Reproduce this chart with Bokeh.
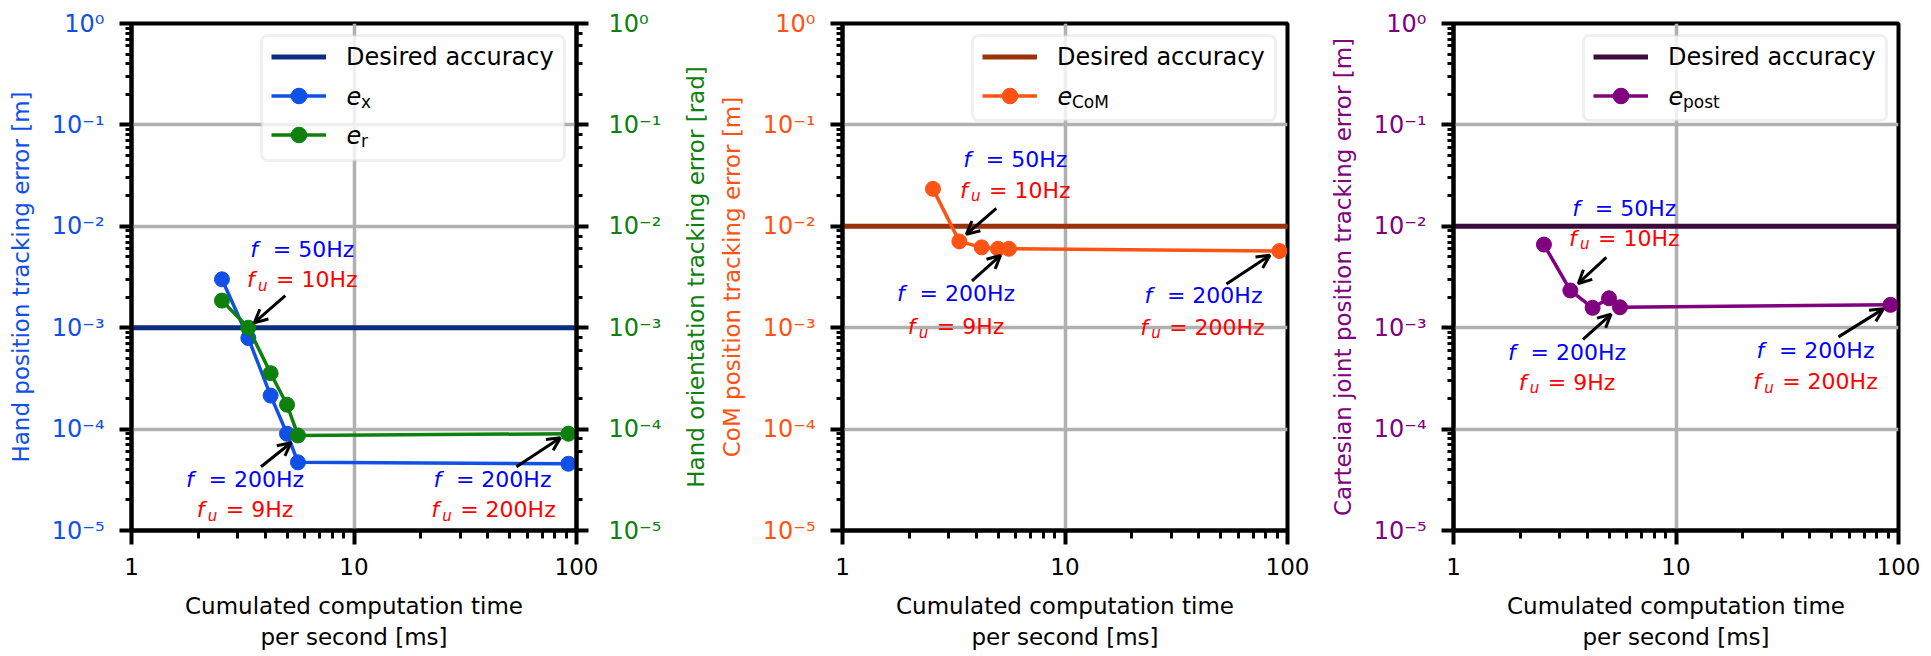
import math
from bokeh.plotting import figure
from bokeh.models import (Range1d, LogScale, LogAxis, Legend, LegendItem, Arrow, BoxAnnotation,
                          OpenHead, CustomJSTickFormatter, Label, Title, ColumnDataSource)
from bokeh.layouts import row
from bokeh.embed import file_html
from bokeh.resources import INLINE
from bokeh.core.properties import value

# ---------------- data ----------------
comp_time_ms = [2.55, 3.35, 4.22, 5.0, 5.6, 92.0]
e_x = [3.0e-3, 7.9e-4, 2.14e-4, 9.0e-5, 4.7e-5, 4.55e-5]
e_r = [1.85e-3, 1.0e-3, 3.56e-4, 1.74e-4, 8.65e-5, 9.0e-5]
e_com = [2.34e-2, 7.1e-3, 6.2e-3, 6.0e-3, 6.0e-3, 5.7e-3]
e_post = [6.6e-3, 2.33e-3, 1.57e-3, 1.95e-3, 1.59e-3, 1.68e-3]
desired_hand = 1e-3
desired_com = 1e-2
desired_post = 1e-2
x_limits = [1, 100]
y_limits = [1e-5, 1]
f_labels = ["50Hz", "200Hz", "200Hz"]
fu_labels = ["10Hz", "9Hz", "200Hz"]
x_title = "Cumulated computation time\nper second [ms]"
orientation_title = "Hand orientation tracking error [rad]"

# ---------------- layout / style ----------------
FONT = "DejaVu Sans"
FRAME_W, FRAME_H = 445, 507
PPD_X = FRAME_W / math.log10(x_limits[1] / x_limits[0])
PPD_Y = FRAME_H / math.log10(y_limits[1] / y_limits[0])
BLUE_TXT, RED_TXT = "#0000ff", "#ff0000"
LEG_MARGIN, LEG_GLYPH_W, LEG_ITEM_H, LEG_STANDOFF, LEG_LABEL_W = 14, 55, 39, 20, 216

W = {c: 1303 for c in "0123456789"}
W.update({"H": 1540, "z": 1075, "=": 1716, " ": 651})


def tw(s, size):
    return sum(W.get(c, 1303) for c in s) / 2048 * size


def px_shift(x, y, dx, dy):
    return x * 10 ** (dx / PPD_X), y * 10 ** (-dy / PPD_Y)


def frame_pt(px, py):
    return x_limits[0] * 10 ** (px / PPD_X), y_limits[1] * 10 ** (-py / PPD_Y)


Y_FMT = """
const e = Math.round(Math.log10(tick));
const sup = {"-": "\u207b", "0": "\u2070", "1": "\u00b9", "2": "\u00b2", "3": "\u00b3",
             "4": "\u2074", "5": "\u2075", "6": "\u2076", "7": "\u2077", "8": "\u2078", "9": "\u2079"};
return "10" + String(e).split("").map(c => sup[c]).join("");
"""
X_FMT = "return String(Math.round(tick));"


def style_y(ax, color, title, standoff=15):
    ax.axis_line_color = "black"
    ax.axis_line_width = 4
    ax.major_tick_line_color = "black"
    ax.major_tick_line_width = 4
    ax.major_tick_out = 12
    ax.major_tick_in = 0
    ax.minor_tick_line_color = "black"
    ax.minor_tick_line_width = 3
    ax.minor_tick_out = 6
    ax.minor_tick_in = 0
    ax.major_label_text_color = color
    ax.major_label_text_font = FONT
    ax.major_label_text_font_size = "24px"
    ax.major_label_standoff = standoff
    if title:
        ax.axis_label = title
        ax.axis_label_text_color = color
        ax.axis_label_text_font = FONT
        ax.axis_label_text_font_size = "23px"
        ax.axis_label_text_font_style = "normal"
        ax.axis_label_standoff = 15
    ax.formatter = CustomJSTickFormatter(code=Y_FMT)


def style_x(ax):
    ax.axis_line_color = "black"
    ax.axis_line_width = 4
    ax.major_tick_line_color = "black"
    ax.major_tick_line_width = 4
    ax.major_tick_out = 14
    ax.major_tick_in = 0
    ax.minor_tick_line_color = "black"
    ax.minor_tick_line_width = 3
    ax.minor_tick_out = 8
    ax.minor_tick_in = 0
    ax.major_label_text_color = "black"
    ax.major_label_text_font = FONT
    ax.major_label_text_font_size = "23px"
    ax.major_label_standoff = 13
    ax.axis_label = x_title
    ax.axis_label_text_color = "black"
    ax.axis_label_text_font = FONT
    ax.axis_label_text_font_size = "23px"
    ax.axis_label_text_font_style = "normal"
    ax.axis_label_standoff = 15
    ax.formatter = CustomJSTickFormatter(code=X_FMT)


def make_panel(borders, ytitle, ycolor, desired, dcolor, series, annots, right=None):
    p = figure(x_axis_type="log", y_axis_type="log",
               x_range=Range1d(*x_limits), y_range=Range1d(*y_limits),
               frame_width=FRAME_W, frame_height=FRAME_H,
               min_border_left=borders[0], min_border_right=borders[1],
               min_border_top=23, min_border_bottom=124,
               output_backend="svg", toolbar_location=None)
    p.outline_line_color = "black"
    p.outline_line_width = 4
    p.background_fill_color = "white"
    p.border_fill_color = "white"
    for g in (p.xgrid, p.ygrid):
        g.grid_line_color = "#b0b0b0"
        g.grid_line_width = 3.5
    style_x(p.xaxis[0])
    style_y(p.yaxis[0], ycolor, ytitle)
    if right is not None:
        p.extra_y_ranges = {"right": Range1d(*y_limits)}
        p.extra_y_scales = {"right": LogScale()}
        rax = LogAxis(y_range_name="right")
        style_y(rax, right, None, standoff=20)
        p.add_layout(rax, "right")

    # legend box (drawn separately so that the math labels can sit on top)
    n_items = 1 + len(series)
    bl, bt = frame_pt(FRAME_W - 12 - 303, 12)
    br, bb = frame_pt(FRAME_W - 12, 12 + (125 if n_items == 3 else 85))
    box = BoxAnnotation(left=bl, right=br, top=bt, bottom=bb, fill_color="white",
                        fill_alpha=0.8, line_color="#cccccc", line_width=3,
                        level="underlay")
    try:
        box.border_radius = 6
    except Exception:
        pass
    p.add_layout(box)

    # desired accuracy: horizontal line across the whole x range
    r_des = p.line(x=x_limits, y=[desired, desired], line_color=dcolor, line_width=5)
    items = [LegendItem(label="Desired accuracy", renderers=[r_des])]
    for s in series:
        kw = {"y_range_name": "right"} if s.get("right") else {}
        src = ColumnDataSource(dict(x=comp_time_ms, y=s["y"]))
        rl = p.line("x", "y", source=src, line_color=s["color"], line_width=3.5, **kw)
        rs = p.scatter("x", "y", source=src, size=15, fill_color=s["color"],
                       line_color=s["color"], **kw)
        items.append(LegendItem(label=" ", renderers=[rl, rs]))

    legend = Legend(items=items, location="top_right", margin=LEG_MARGIN, padding=0,
                    spacing=0, glyph_height=LEG_ITEM_H, glyph_width=LEG_GLYPH_W,
                    label_standoff=LEG_STANDOFF, label_width=LEG_LABEL_W,
                    label_height=20, label_text_font=FONT, label_text_font_size="24px",
                    label_text_color="black", border_line_color=None,
                    background_fill_alpha=0)
    p.add_layout(legend)

    # legend math labels
    lab_left = FRAME_W - LEG_MARGIN - (LEG_GLYPH_W + LEG_STANDOFF + LEG_LABEL_W) \
        + LEG_GLYPH_W + LEG_STANDOFF
    for k, s in enumerate(series, start=1):
        cy = LEG_MARGIN + LEG_ITEM_H * k + LEG_ITEM_H / 2
        ex, ey = frame_pt(lab_left, cy)
        p.add_layout(Label(x=ex, y=ey, text="e", text_font=FONT, text_font_size="24px",
                           text_font_style="italic", text_color="black", level="overlay",
                           text_align="left", text_baseline="middle"))
        sx, sy = frame_pt(lab_left + 14.5, cy + 6)
        p.add_layout(Label(x=sx, y=sy, text=s["sub"], text_font=FONT, text_font_size="17px",
                           text_color="black", text_align="left", text_baseline="middle",
                           level="overlay"))

    # annotations
    it = dict(x=[], y=[], text=[], color=[], size=[])
    nm = dict(x=[], y=[], text=[], color=[])
    for j, (si, idx, head, tail, c1, c2) in enumerate(annots):
        x0 = comp_time_ms[idx]
        y0 = series[si]["y"][idx]
        hx, hy = px_shift(x0, y0, *head)
        tx, ty = px_shift(x0, y0, *tail)
        p.add_layout(Arrow(x_start=tx, y_start=ty, x_end=hx, y_end=hy,
                           line_color="black", line_width=3,
                           end=OpenHead(size=13, line_width=3, line_color="black")))
        for (cdx, cdy), sub, val, col in ((c1, False, f_labels[j], BLUE_TXT),
                                           (c2, True, fu_labels[j], RED_TXT)):
            eq_rel = 29 if sub else 22.5
            s_eq = "= " + val
            total = eq_rel + tw(s_eq, 22)
            L = cdx - total / 2
            fx, fy = px_shift(x0, y0, L, cdy)
            it["x"].append(fx); it["y"].append(fy); it["text"].append("f")
            it["color"].append(col); it["size"].append("22px")
            if sub:
                ux, uy = px_shift(x0, y0, L + 11, cdy + 6)
                it["x"].append(ux); it["y"].append(uy); it["text"].append("u")
                it["color"].append(col); it["size"].append("15px")
            qx, qy = px_shift(x0, y0, L + eq_rel, cdy)
            nm["x"].append(qx); nm["y"].append(qy); nm["text"].append(s_eq)
            nm["color"].append(col)
    p.text("x", "y", text="text", source=ColumnDataSource(it), text_color="color",
           text_font_size="size", text_font=value(FONT), text_font_style="italic",
           text_align="left", text_baseline="middle")
    p.text("x", "y", text="text", source=ColumnDataSource(nm), text_color="color",
           text_font_size="22px", text_font=value(FONT), text_align="left",
           text_baseline="middle")
    return p


BLUE, GREEN, ORANGE, PURPLE = "#1150e6", "#0d800d", "#ff5314", "#800080"

p1 = make_panel(
    (131, 89), "Hand position tracking error [m]", BLUE, desired_hand, "#0b2d80",
    [dict(y=e_x, color=BLUE, sub="x"), dict(y=e_r, color=GREEN, sub="r", right=True)],
    [(1, 1, (6, -5), (37, -32), (54, -78), (54, -48)),
     (0, 3, (4, 9), (-26, 33), (-42, 46), (-42, 76)),
     (1, 5, (-8, 4), (-52, 33), (-76, 46), (-75, 76))],
    right=GREEN)

p2 = make_panel(
    (177, 33), "CoM position tracking error [m]", ORANGE, desired_com, "#9c3208",
    [dict(y=e_com, color=ORANGE, sub="CoM")],
    [(0, 1, (7, -7), (37, -33), (56, -82), (56, -51)),
     (0, 3, (2.5, 6.7), (-26, 32), (-42, 45), (-42, 78)),
     (0, 5, (-9.5, 4.3), (-53, 33), (-76, 44), (-77, 76))])

# title of the first panel's right-hand (orientation) axis, reading bottom-to-top
p2.add_layout(Title(text=orientation_title, align="center", text_font=FONT,
                    text_font_size="23px", text_color=GREEN, text_font_style="normal",
                    standoff=13), "left")

p3 = make_panel(
    (133, 30), "Cartesian joint position tracking error [m]", PURPLE, desired_post, "#3c0c3c",
    [dict(y=e_post, color=PURPLE, sub="post")],
    [(0, 1, (8, -7), (36, -33), (54, -82), (54, -52)),
     (0, 3, (2, 16), (-26, 41), (-42, 54), (-42, 84)),
     (0, 5, (-7, 4), (-52, 32), (-75, 46), (-75, 77))])

layout = row(p1, p2, p3)
open("out.html", "w").write(file_html(layout, INLINE))
